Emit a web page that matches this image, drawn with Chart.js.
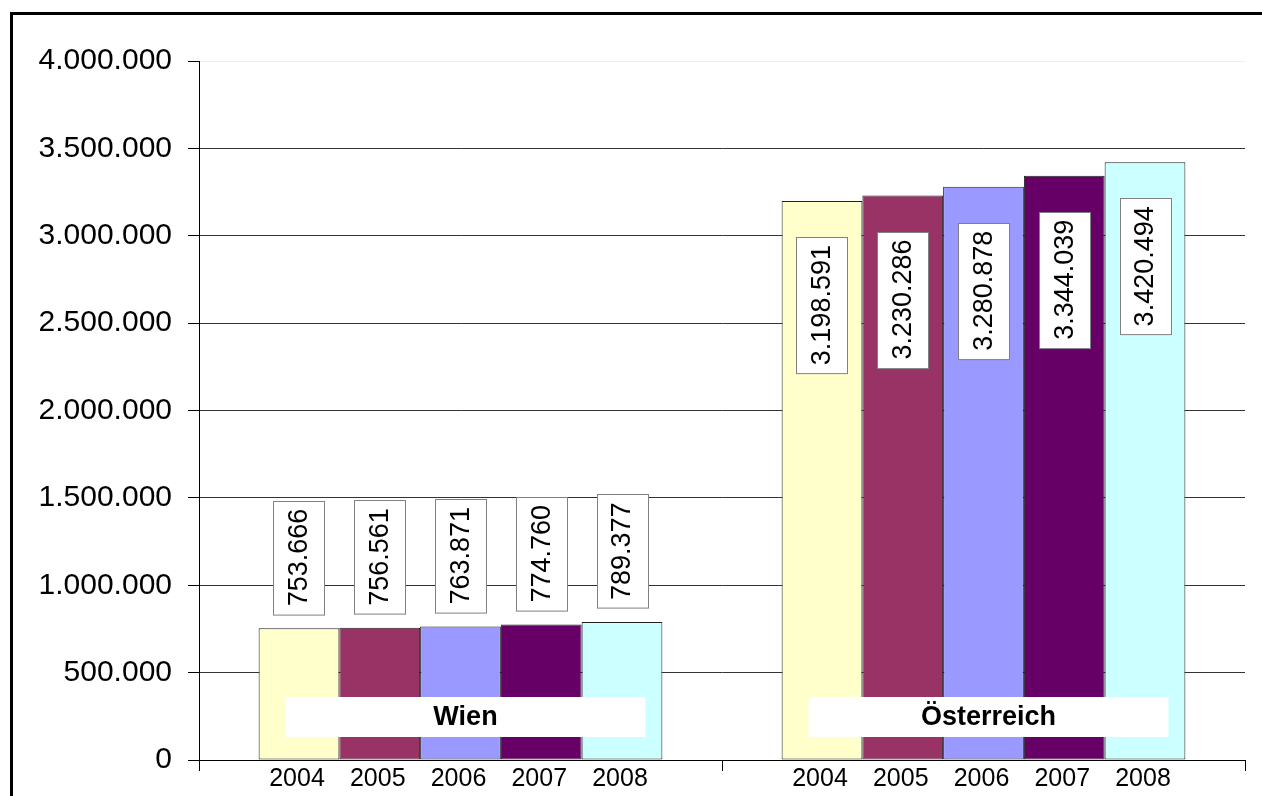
<!DOCTYPE html>
<html lang="de">
  <head>
    <meta charset="utf-8">
    <title>Wien / Österreich 2004-2008</title>
    <style>
      body { margin: 0; background: #fff; }
      canvas { display: block; }
    </style>
  </head>
  <body>
    <canvas id="bar-chart" width="1262" height="796"></canvas>

    <script src="https://cdn.jsdelivr.net/npm/chart.js@4/dist/chart.umd.min.js"></script>
    <script>
    // data
    const groups = ['Wien', 'Österreich'];
    const years = ['2004', '2005', '2006', '2007', '2008'];
    const wien = [753666, 756561, 763871, 774760, 789377];
    const oesterreich = [3198591, 3230286, 3280878, 3344039, 3420494];
    const yTicks = [0, 500000, 1000000, 1500000, 2000000, 2500000, 3000000, 3500000, 4000000];

    const colors = ['#FFFFCC', '#993366', '#9999FF', '#660066', '#CCFFFF'];
    const FONT = '"Liberation Sans", Arial, sans-serif';

    function fmt(n) {
      return String(Math.round(n)).replace(/\B(?=(\d{3})+(?!\d))/g, '.');
    }

    const labelsPlugin = {
      id: 'labels',
      beforeDraw(chart) {
        const ctx = chart.ctx;
        ctx.save();
        ctx.fillStyle = '#fff';
        ctx.fillRect(0, 0, chart.width, chart.height);
        ctx.lineWidth = 3;
        ctx.strokeStyle = '#000';
        ctx.strokeRect(11.5, 13.5, 1400, 1000);
        ctx.restore();
      },
      afterDatasetsDraw(chart) {
        const ctx = chart.ctx;
        const area = chart.chartArea;
        ctx.save();
        // value labels, rotated, in white boxes
        chart.data.datasets.forEach((ds, di) => {
          chart.getDatasetMeta(di).data.forEach((bar, i) => {
            const txt = fmt(ds.data[i]);
            ctx.font = '27px ' + FONT;
            const tw = ctx.measureText(txt).width;
            const boxW = 51, boxH = tw + 16;
            const inside = (area.bottom - bar.y) > boxH + 80;
            const top = inside ? bar.y + 36 : bar.y - 14 - boxH;
            const left = Math.round(bar.x - boxW / 2) + 0.5;
            ctx.fillStyle = '#fff';
            ctx.fillRect(left, Math.round(top) + 0.5, boxW, boxH);
            ctx.strokeStyle = '#808080';
            ctx.lineWidth = 1;
            ctx.strokeRect(left, Math.round(top) + 0.5, boxW, boxH);
            ctx.save();
            ctx.translate(bar.x + 1, top + boxH / 2);
            ctx.rotate(-Math.PI / 2);
            ctx.fillStyle = '#000';
            ctx.textAlign = 'center';
            ctx.textBaseline = 'middle';
            ctx.fillText(txt, 0, 0);
            ctx.restore();
          });
        });
        // group names in white boxes over the bars
        const x = chart.scales.x;
        groups.forEach((g, i) => {
          const cx = x.getPixelForValue(i) + 5;
          const cy = area.bottom - 43;
          ctx.fillStyle = '#fff';
          ctx.fillRect(cx - 180, cy - 20, 360, 40);
          ctx.fillStyle = '#000';
          ctx.font = 'bold 27px ' + FONT;
          ctx.textAlign = 'center';
          ctx.textBaseline = 'middle';
          ctx.fillText(g, cx, cy + 1);
        });
        // years under each bar
        ctx.font = '25px ' + FONT;
        ctx.fillStyle = '#000';
        chart.data.datasets.forEach((ds, di) => {
          chart.getDatasetMeta(di).data.forEach(bar => {
            ctx.fillText(ds.label, bar.x - 2, area.bottom + 19);
          });
        });
        ctx.restore();
      }
    };

    new Chart(document.getElementById('bar-chart'), {
      type: 'bar',
      data: {
        labels: groups,
        datasets: years.map((y, i) => ({
          label: y,
          data: [wien[i], oesterreich[i]],
          backgroundColor: colors[i],
          borderColor: '#222',
          borderWidth: 1,
          borderSkipped: false,
          categoryPercentage: 0.772,
          barPercentage: 1
        }))
      },
      options: {
        responsive: false,
        animation: false,
        devicePixelRatio: 1,
        layout: { padding: { left: 0, top: 61, right: 17, bottom: 0 } },
        plugins: {
          legend: { display: false },
          tooltip: { enabled: false }
        },
        scales: {
          x: {
            grid: { drawOnChartArea: false, drawTicks: true, tickLength: 11, offset: true, color: '#000' },
            border: { color: '#000', width: 1 },
            ticks: { display: false },
            afterFit(scale) { scale.height = 36; }
          },
          y: {
            min: 0,
            max: 4000000,
            afterBuildTicks(scale) { scale.ticks = yTicks.map(v => ({ value: v })); },
            grid: {
              color: c => (c.tick && c.tick.value === 4000000) ? '#eeeeee' : '#333',
              tickColor: '#000',
              tickLength: 11
            },
            border: { color: '#000', width: 1 },
            ticks: {
              color: '#000',
              padding: 16,
              font: { family: FONT, size: 30 },
              callback: v => fmt(v)
            },
            afterFit(scale) { scale.width = 199; }
          }
        }
      },
      plugins: [labelsPlugin]
    });
    </script>
  </body>
</html>
